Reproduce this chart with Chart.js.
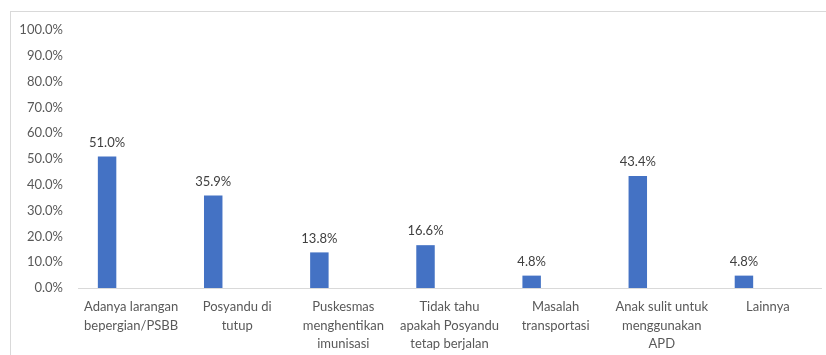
<!DOCTYPE html>
<html>
<head>
<meta charset="utf-8">
<script src="https://cdn.jsdelivr.net/npm/chart.js@4"></script>
<style>
    body { margin: 0; background: #fff; }
    #bingkai {
        position: absolute; left: 10px; top: 11px;
        width: 840px; height: 360px;
        border: 1px solid #d9d9d9;
    }
    #wadah { position: absolute; left: 0; top: 0; width: 826px; height: 355px; }
</style>
</head>
<body>
<div id="bingkai"></div>
<div id="wadah"><canvas id="chartAlasan"></canvas></div>
<script>
var kategori = [
    ['Adanya larangan', 'bepergian/PSBB'],
    ['Posyandu di', 'tutup'],
    ['Puskesmas', 'menghentikan', 'imunisasi'],
    ['Tidak tahu', 'apakah Posyandu', 'tetap berjalan'],
    ['Masalah', 'transportasi'],
    ['Anak sulit untuk', 'menggunakan', 'APD'],
    ['Lainnya']
]
var persentase = [51.0, 35.9, 13.8, 16.6, 4.8, 43.4, 4.8]
var seriKosong = [null, null, null, null, null, null, null]

const chartAlasan = document.getElementById('chartAlasan');

const labelNilai = {
    id: 'labelNilai',
    afterDatasetsDraw(chart) {
        const ctx = chart.ctx
        const meta = chart.getDatasetMeta(0)
        ctx.save()
        ctx.font = '13px Lato'
        ctx.fillStyle = '#404040'
        ctx.textAlign = 'center'
        ctx.textBaseline = 'middle'
        meta.data.forEach((bar, index) => {
            ctx.fillText(persentase[index].toFixed(1) + '%', bar.x, bar.y - 14)
        })
        ctx.restore()
    }
}

new Chart(chartAlasan, {
    type: 'bar',
    data: {
        labels: kategori,
        datasets: [{
            label: 'Persentase',
            data: persentase,
            backgroundColor: '#4472c4',
            categoryPercentage: 0.904,
            barPercentage: 0.385
        }, {
            label: '',
            data: seriKosong,
            backgroundColor: '#ed7d31',
            categoryPercentage: 0.904,
            barPercentage: 0.385
        }]
    },
    options: {
        responsive: true,
        maintainAspectRatio: false,
        animation: false,
        layout: {
            padding: { top: 30, right: 5, bottom: 0, left: 0 }
        },
        plugins: {
            legend: { display: false },
            tooltip: { enabled: false }
        },
        scales: {
            x: {
                grid: { display: true, color: 'transparent', drawTicks: false },
                border: { color: '#d9d9d9', width: 1 },
                ticks: {
                    color: '#595959',
                    font: { family: 'Lato', size: 13, lineHeight: 1.42 },
                    padding: 10,
                    maxRotation: 0,
                    autoSkip: false
                },
                afterFit: (scale) => { scale.height = 67 }
            },
            y: {
                min: 0,
                max: 100,
                grid: { display: false, drawTicks: false },
                border: { display: false },
                ticks: {
                    stepSize: 10,
                    color: '#595959',
                    font: { family: 'Lato', size: 13 },
                    padding: 15,
                    callback: (v) => v.toFixed(1) + '%'
                },
                afterFit: (scale) => { scale.width = 78 }
            }
        }
    },
    plugins: [labelNilai]
});
</script>
</body>
</html>
